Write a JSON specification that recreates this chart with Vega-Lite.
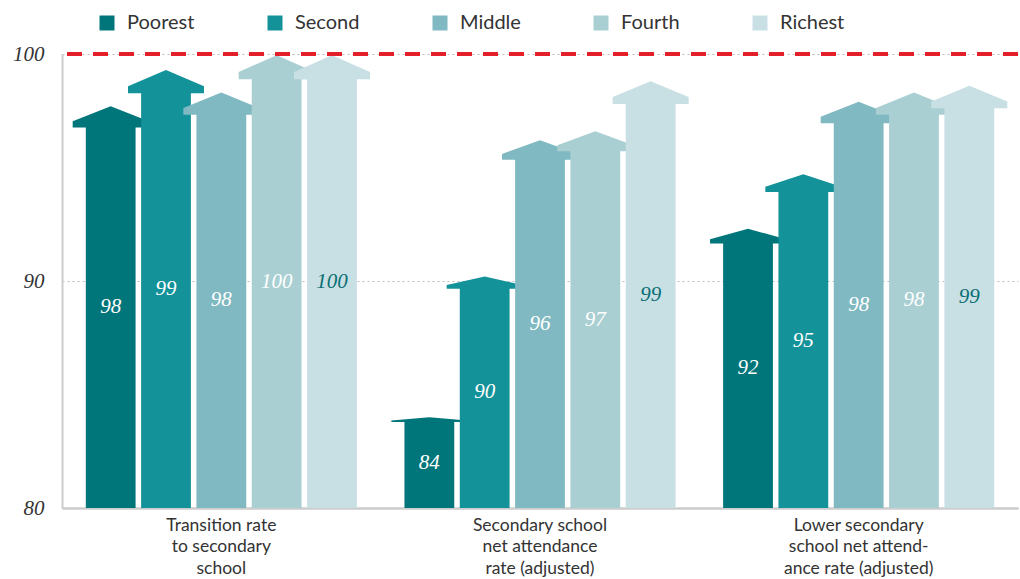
{
  "$schema": "https://vega.github.io/schema/vega-lite/v6.json",
  "autosize": {"type": "none"},
  "padding": {"left": 62, "top": 54, "right": 2, "bottom": 71},
  "width": 956,
  "height": 454,
  "background": "white",
  "data": {
    "values": [
      {"g": "Transition rate|to secondary|school", "q": "Poorest", "v": 97.7},
      {"g": "Transition rate|to secondary|school", "q": "Second", "v": 99.3},
      {"g": "Transition rate|to secondary|school", "q": "Middle", "v": 98.3},
      {"g": "Transition rate|to secondary|school", "q": "Fourth", "v": 99.95},
      {"g": "Transition rate|to secondary|school", "q": "Richest", "v": 99.95},
      {"g": "Secondary school|net attendance|rate (adjusted)", "q": "Poorest", "v": 84.0},
      {"g": "Secondary school|net attendance|rate (adjusted)", "q": "Second", "v": 90.2},
      {"g": "Secondary school|net attendance|rate (adjusted)", "q": "Middle", "v": 96.2},
      {"g": "Secondary school|net attendance|rate (adjusted)", "q": "Fourth", "v": 96.6},
      {"g": "Secondary school|net attendance|rate (adjusted)", "q": "Richest", "v": 98.8},
      {"g": "Lower secondary|school net attend-|ance rate (adjusted)", "q": "Poorest", "v": 92.3},
      {"g": "Lower secondary|school net attend-|ance rate (adjusted)", "q": "Second", "v": 94.7},
      {"g": "Lower secondary|school net attend-|ance rate (adjusted)", "q": "Middle", "v": 97.9},
      {"g": "Lower secondary|school net attend-|ance rate (adjusted)", "q": "Fourth", "v": 98.3},
      {"g": "Lower secondary|school net attend-|ance rate (adjusted)", "q": "Richest", "v": 98.6}
    ]
  },
  "layer": [
    {
      "mark": {"type": "rule", "opacity": 0},
      "encoding": {
        "y": {
          "datum": 80, "type": "quantitative",
          "scale": {"domain": [80, 100], "nice": false, "zero": false},
          "axis": {
            "title": null, "values": [80, 90, 100], "ticks": false,
            "domainColor": "#cccccc", "domainWidth": 2,
            "grid": true, "gridColor": "#bbbbbb", "gridDash": [2, 3], "gridWidth": 1,
            "labelFont": "Liberation Serif", "labelFontStyle": "italic",
            "labelFontSize": 21, "labelColor": "#333333", "labelPadding": 18
          }
        }
      }
    },
    {
      "transform": [
        {"calculate": "datum.v - 0.05 * (datum.v - 80)", "as": "top"},
        {"calculate": "(datum.v + 80) / 2", "as": "mid"},
        {"calculate": "'M0,0L1,' + format(0.0222 * (datum.v - 80), '.4f') + 'L1,' + format(0.0317 * (datum.v - 80), '.4f') + 'L-1,' + format(0.0317 * (datum.v - 80), '.4f') + 'L-1,' + format(0.0222 * (datum.v - 80), '.4f') + 'Z'", "as": "head"}
      ],
      "encoding": {
        "x": {
          "field": "g", "type": "nominal",
          "sort": ["Transition rate|to secondary|school", "Secondary school|net attendance|rate (adjusted)", "Lower secondary|school net attend-|ance rate (adjusted)"],
          "scale": {"paddingInner": 0, "paddingOuter": 0},
          "axis": {
            "title": null, "labelAngle": 0, "ticks": false,
            "domainColor": "#cccccc", "domainWidth": 2.5,
            "labelExpr": "split(datum.label, '|')",
            "labelFont": "Lato", "labelFontSize": 17.5, "labelColor": "#333333",
            "labelLineHeight": 21.5, "labelPadding": 8, "labelBaseline": "top"
          }
        },
        "xOffset": {
          "field": "q", "type": "nominal",
          "sort": ["Poorest", "Second", "Middle", "Fourth", "Richest"],
          "scale": {"paddingInner": 0.1, "paddingOuter": 0.43}
        }
      },
      "layer": [
        {
          "transform": [{"filter": "datum.q === 'Poorest'"}],
          "encoding": {
            "color": {"field": "q", "type": "nominal",
              "scale": {"domain": ["Poorest", "Second", "Middle", "Fourth", "Richest"], "range": ["#00757a", "#13929a", "#80b9c1", "#a9cfd3", "#c8e0e3"]},
              "legend": {"title": null, "orient": "none", "legendX": 35, "legendY": -41, "direction": "horizontal", "columns": 5, "symbolType": "square", "symbolSize": 225, "symbolOpacity": 1, "symbolStrokeWidth": 0, "labelFont": "Lato", "labelFontSize": 20, "labelColor": "#333333", "labelOffset": 10, "columnPadding": 70, "gridAlign": "each"}
            }
          },
          "layer": [
            {"mark": {"type": "bar"}, "encoding": {"y": {"field": "top", "type": "quantitative"}, "y2": {"datum": 80}}},
            {"mark": {"type": "point", "filled": true, "opacity": 1, "size": 5776}, "encoding": {"y": {"field": "v", "type": "quantitative"}, "shape": {"field": "head", "type": "nominal", "scale": null}}}
          ]
        },
        {
          "transform": [{"filter": "datum.q === 'Second'"}],
          "encoding": {"color": {"field": "q", "type": "nominal"}},
          "layer": [
            {"mark": {"type": "bar"}, "encoding": {"y": {"field": "top", "type": "quantitative"}, "y2": {"datum": 80}}},
            {"mark": {"type": "point", "filled": true, "opacity": 1, "size": 5776}, "encoding": {"y": {"field": "v", "type": "quantitative"}, "shape": {"field": "head", "type": "nominal", "scale": null}}}
          ]
        },
        {
          "transform": [{"filter": "datum.q === 'Middle'"}],
          "encoding": {"color": {"field": "q", "type": "nominal"}},
          "layer": [
            {"mark": {"type": "bar"}, "encoding": {"y": {"field": "top", "type": "quantitative"}, "y2": {"datum": 80}}},
            {"mark": {"type": "point", "filled": true, "opacity": 1, "size": 5776}, "encoding": {"y": {"field": "v", "type": "quantitative"}, "shape": {"field": "head", "type": "nominal", "scale": null}}}
          ]
        },
        {
          "transform": [{"filter": "datum.q === 'Fourth'"}],
          "encoding": {"color": {"field": "q", "type": "nominal"}},
          "layer": [
            {"mark": {"type": "bar"}, "encoding": {"y": {"field": "top", "type": "quantitative"}, "y2": {"datum": 80}}},
            {"mark": {"type": "point", "filled": true, "opacity": 1, "size": 5776}, "encoding": {"y": {"field": "v", "type": "quantitative"}, "shape": {"field": "head", "type": "nominal", "scale": null}}}
          ]
        },
        {
          "transform": [{"filter": "datum.q === 'Richest'"}],
          "encoding": {"color": {"field": "q", "type": "nominal"}},
          "layer": [
            {"mark": {"type": "bar"}, "encoding": {"y": {"field": "top", "type": "quantitative"}, "y2": {"datum": 80}}},
            {"mark": {"type": "point", "filled": true, "opacity": 1, "size": 5776}, "encoding": {"y": {"field": "v", "type": "quantitative"}, "shape": {"field": "head", "type": "nominal", "scale": null}}}
          ]
        },
        {
          "mark": {"type": "text", "font": "Liberation Serif", "fontStyle": "italic", "fontSize": 21, "baseline": "middle", "align": "center"},
          "encoding": {
            "y": {"field": "mid", "type": "quantitative"},
            "text": {"field": "v", "type": "quantitative", "format": ".0f"},
            "color": {"condition": {"test": "datum.q === 'Richest'", "value": "#0b6f75"}, "value": "#ffffff"}
          }
        }
      ]
    },
    {
      "mark": {"type": "rule", "color": "#e3202a", "strokeWidth": 3, "strokeDash": [15, 11]},
      "encoding": {"y": {"datum": 100, "type": "quantitative"}}
    }
  ],
  "config": {"view": {"stroke": null}}
}
